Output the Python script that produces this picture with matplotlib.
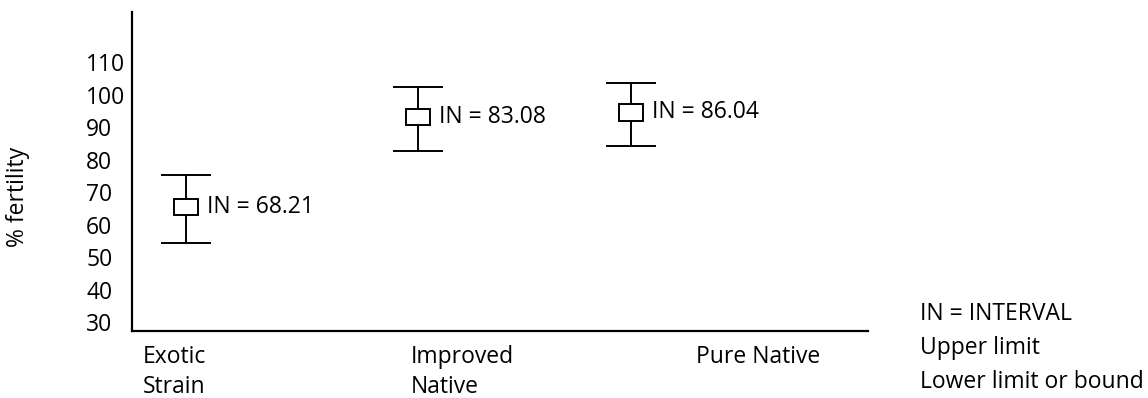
import matplotlib.pyplot as plt
from matplotlib.patches import Rectangle
import matplotlib.transforms as mtransforms

plt.rcParams['font.family'] = ['Open Sans', 'DejaVu Sans']

# values
categories = ["Exotic\nStrain", "Improved\nNative", "Pure Native"]
box_mid = [65.5, 93.1, 94.5]
upper_limit = [75.2, 102.4, 103.6]
lower_limit = [54.3, 82.6, 84.2]
interval = ["68.21", "83.08", "86.04"]
yticks = [30, 40, 50, 60, 70, 80, 90, 100, 110]
legend_lines = ["IN = INTERVAL", "Upper limit", "Lower limit or bound"]

# layout
xpos = [0, 1, 1.92]
label_x = [-0.185, 0.97, 2.2]   # where the category names start
fs = 16.5

fig = plt.figure(figsize=(11.48, 3.98), dpi=100)
ax = fig.add_axes([0.115, 0.1683, 0.641, 0.8015])
ax.set_xlim(-0.233, 2.94)
ax.set_ylim(27.23, 125.38)

for s in ["top", "right"]:
    ax.spines[s].set_visible(False)
for s in ["left", "bottom"]:
    ax.spines[s].set_linewidth(1.6)

# error bars (whiskers + caps)
for x, lo, up in zip(xpos, lower_limit, upper_limit):
    ax.plot([x, x], [lo, up], color="black", lw=1.4, zorder=2)
    ax.plot([x - 0.103, x + 0.103], [up, up], color="black", lw=1.4, zorder=2)
    ax.plot([x - 0.103, x + 0.103], [lo, lo], color="black", lw=1.4, zorder=2)

# little boxes in the middle
bw, bh = 0.103, 5.0
for x, m in zip(xpos, box_mid):
    ax.add_patch(Rectangle((x - bw / 2, m - bh / 2), bw, bh, facecolor="white",
                           edgecolor="black", lw=1.4, zorder=3))

for x, m, v in zip(xpos, box_mid, interval):
    ax.annotate(f"IN = {v}", (x, m), xytext=(15, 0), textcoords="offset points",
                ha="left", va="center", fontsize=fs)

ax.set_xticks([])
ax.set_yticks(yticks)
ax.tick_params(axis="y", length=0, pad=33, labelsize=fs)
for lab in ax.get_yticklabels():
    lab.set_horizontalalignment("left")

# category names, one text per line
trans = mtransforms.blended_transform_factory(ax.transData, fig.transFigure)
for lx, c in zip(label_x, categories):
    for j, line in enumerate(c.split("\n")):
        ax.text(lx, 1 - (354 + 30 * j) / 398, line, transform=trans,
                ha="left", va="center_baseline", fontsize=fs)

fig.text(18 / 1148, 1 - 197 / 398, "% fertility", rotation=90, ha="center",
         va="center", fontsize=fs)

for i, t in enumerate(legend_lines):
    fig.text(920 / 1148, 1 - (311 + 34 * i) / 398, t, ha="left",
             va="center_baseline", fontsize=fs)

fig.savefig("out.png", dpi=100)
